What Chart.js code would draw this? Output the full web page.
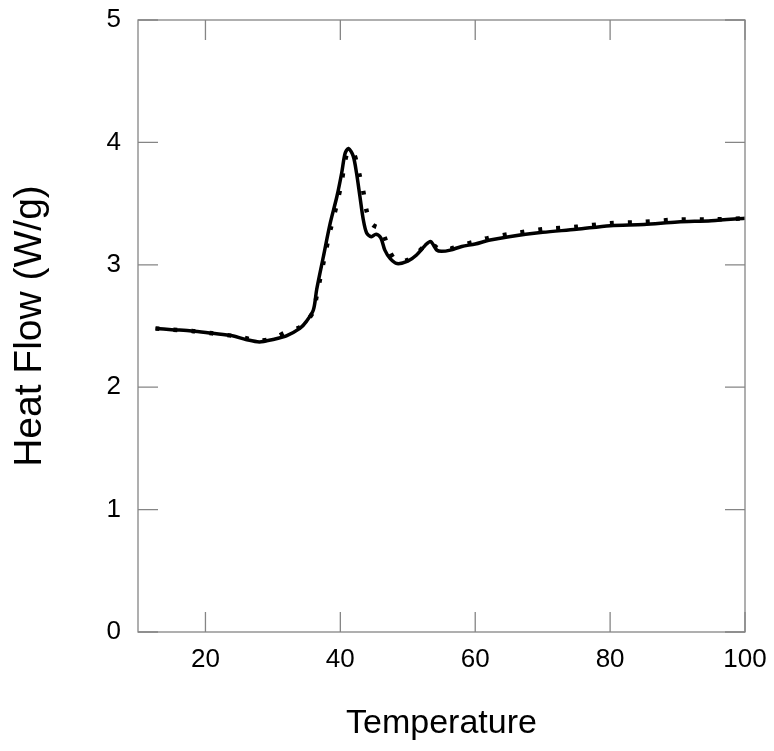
<!DOCTYPE html>
<html lang="en">
<head>
  <meta charset="UTF-8" />
  <title>Heat Flow vs Temperature</title>
  <script src="https://cdn.jsdelivr.net/npm/chart.js"></script>
  <style>
    body {
      margin: 0;
      padding: 0;
      background: #ffffff;
    }
    #wrap {
      width: 774px;
      height: 751px;
    }
  </style>
</head>
<body>
  <div id="wrap">
    <canvas id="dscChart" width="774" height="751"></canvas>
  </div>

  <script>
  // values
  const temperature = [12.6, 15, 18, 21, 24, 26, 28, 30, 32, 34, 35, 36, 36.5, 37.5, 38.5, 39.5, 40.2, 40.7, 41.2, 41.9,
    42.4, 42.9, 43.4, 43.9, 44.6, 45.3, 46, 46.6, 47.4, 48.4, 50, 51.3, 52.6, 53.4, 54.3, 55, 56.3, 58, 60, 62,
    65, 70, 75, 80, 85, 90, 95, 100];

  const heatFlowSolid = [2.48, 2.47, 2.46, 2.44, 2.42, 2.39, 2.37, 2.39, 2.42, 2.48, 2.54, 2.63, 2.80, 3.07, 3.34, 3.56, 3.75, 3.91, 3.95, 3.89,
    3.75, 3.56, 3.37, 3.26, 3.23, 3.25, 3.22, 3.12, 3.05, 3.01, 3.03, 3.08, 3.16, 3.19, 3.12, 3.11, 3.12, 3.15, 3.17, 3.20,
    3.23, 3.265, 3.29, 3.32, 3.33, 3.35, 3.36, 3.38];

  const heatFlowDashed = [2.48, 2.47, 2.46, 2.44, 2.42, 2.40, 2.38, 2.40, 2.45, 2.49, 2.54, 2.62, 2.75, 3.02, 3.28, 3.50, 3.68, 3.85, 3.93, 3.92,
    3.84, 3.72, 3.60, 3.44, 3.34, 3.31, 3.30, 3.22, 3.10, 3.03, 3.04, 3.09, 3.16, 3.18, 3.14, 3.12, 3.13, 3.16, 3.19, 3.22,
    3.25, 3.29, 3.31, 3.34, 3.35, 3.37, 3.37, 3.38];

  const xTicks = [20, 40, 60, 80, 100];
  const yTicks = [0, 1, 2, 3, 4, 5];

  const toPoints = (xs, ys) => xs.map((x, i) => ({ x: x, y: ys[i] }));

  // box round the plot area with short inward ticks on all four sides
  const frameTicks = {
    id: 'frameTicks',
    afterDatasetsDraw(chart) {
      const { ctx, chartArea: a, scales } = chart;
      const len = 20;
      ctx.save();
      ctx.strokeStyle = '#858585';
      ctx.lineWidth = 1.3;
      ctx.strokeRect(a.left, a.top, a.right - a.left, a.bottom - a.top);
      ctx.beginPath();
      xTicks.forEach(v => {
        const px = scales.x.getPixelForValue(v);
        ctx.moveTo(px, a.bottom); ctx.lineTo(px, a.bottom - len);
        ctx.moveTo(px, a.top); ctx.lineTo(px, a.top + len);
      });
      yTicks.forEach(v => {
        const py = scales.y.getPixelForValue(v);
        ctx.moveTo(a.left, py); ctx.lineTo(a.left + len, py);
        ctx.moveTo(a.right, py); ctx.lineTo(a.right - len, py);
      });
      ctx.stroke();
      ctx.restore();
    }
  };

  new Chart(document.getElementById('dscChart'), {
    type: 'line',
    data: {
      datasets: [
        {
          label: 'solid',
          data: toPoints(temperature, heatFlowSolid),
          borderColor: '#000000',
          borderWidth: 3.5,
          pointRadius: 0,
          tension: 0.3
        },
        {
          label: 'dashed',
          data: toPoints(temperature, heatFlowDashed),
          borderColor: '#000000',
          borderWidth: 4.5,
          borderDash: [4, 14],
          borderCapStyle: 'butt',
          pointRadius: 0,
          tension: 0.3
        }
      ]
    },
    options: {
      responsive: false,
      animation: false,
      layout: { padding: { left: 0, right: 29, top: 20, bottom: 0 } },
      plugins: {
        legend: { display: false },
        tooltip: { enabled: false }
      },
      scales: {
        x: {
          type: 'linear',
          min: 10,
          max: 100,
          afterBuildTicks: s => { s.ticks = xTicks.map(v => ({ value: v })); },
          afterFit: s => { s.height = 119; s.paddingLeft = 0; s.paddingRight = 0; },
          grid: { display: false, drawTicks: false },
          border: { display: false },
          ticks: {
            color: '#000',
            padding: 12,
            maxRotation: 0,
            font: { family: 'Liberation Sans, Arial, sans-serif', size: 26 }
          },
          title: {
            display: true,
            text: 'Temperature',
            color: '#000',
            padding: { top: 0, bottom: 7 },
            font: { family: 'Liberation Sans, Arial, sans-serif', size: 34 }
          }
        },
        y: {
          min: 0,
          max: 5,
          afterBuildTicks: s => { s.ticks = yTicks.map(v => ({ value: v })); },
          afterFit: s => { s.width = 138; s.paddingTop = 0; s.paddingBottom = 0; },
          grid: { display: false, drawTicks: false },
          border: { display: false },
          ticks: {
            color: '#000',
            padding: 17,
            font: { family: 'Liberation Sans, Arial, sans-serif', size: 26 }
          },
          title: {
            display: true,
            text: 'Heat Flow (W/g)',
            color: '#000',
            padding: { top: 7, bottom: 0 },
            font: { family: 'Liberation Sans, Arial, sans-serif', size: 39 }
          }
        }
      }
    },
    plugins: [frameTicks]
  });
  </script>
</body>
</html>
